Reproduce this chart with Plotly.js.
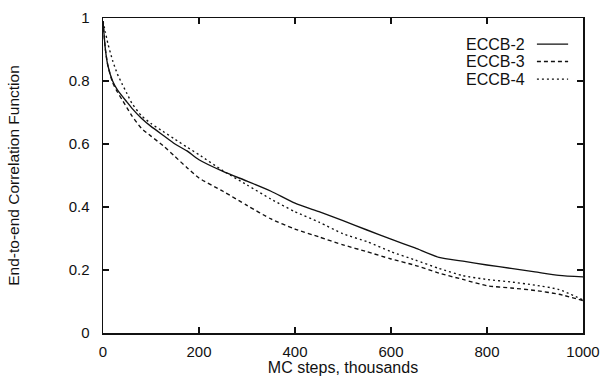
<!DOCTYPE html>
<html>
<head>
<meta charset="utf-8">
<script src="https://cdn.plot.ly/plotly-3.0.1.min.js"></script>
<style>
html,body{margin:0;padding:0;background:#fff;}
#chart{width:604px;height:376px;}
</style>
</head>
<body>
<div id="chart"></div>
<script>
// MC steps (thousands)
var steps = [0, 5, 10, 20, 30, 40, 50, 60, 80, 100, 125, 150, 175, 200, 250, 300, 350, 400, 450, 500, 550, 600, 650, 700, 750, 800, 850, 900, 950, 1000];

var eccb2 = [0.99, 0.90, 0.85, 0.80, 0.772, 0.752, 0.733, 0.714, 0.682, 0.656, 0.628, 0.60, 0.578, 0.55, 0.513, 0.482, 0.45, 0.412, 0.385, 0.357, 0.327, 0.298, 0.27, 0.24, 0.228, 0.216, 0.205, 0.194, 0.183, 0.178];
var eccb3 = [0.99, 0.90, 0.85, 0.795, 0.765, 0.74, 0.715, 0.69, 0.65, 0.625, 0.595, 0.56, 0.525, 0.492, 0.45, 0.405, 0.362, 0.33, 0.305, 0.28, 0.258, 0.235, 0.215, 0.19, 0.17, 0.15, 0.143, 0.135, 0.123, 0.103];
var eccb4 = [0.99, 0.955, 0.92, 0.865, 0.822, 0.79, 0.76, 0.73, 0.69, 0.665, 0.64, 0.615, 0.59, 0.566, 0.515, 0.47, 0.425, 0.385, 0.352, 0.315, 0.29, 0.258, 0.232, 0.205, 0.182, 0.17, 0.162, 0.152, 0.138, 0.105];

var seriesNames = ["ECCB-2", "ECCB-3", "ECCB-4"];
var seriesData = [eccb2, eccb3, eccb4];
var dashes = ["solid", "4px,3px", "2px,3px"];

var xTicks = [0, 200, 400, 600, 800, 1000];
var yTicks = [0, 0.2, 0.4, 0.6, 0.8, 1];

var FONT = "Liberation Sans, Arial, Helvetica, sans-serif";
var INK = "#111";

var traces = seriesData.map(function (d, i) {
  return {
    x: steps, y: d, name: seriesNames[i], type: "scatter", mode: "lines",
    line: {color: INK, width: 1.35, dash: dashes[i], shape: "spline", smoothing: 0.6},
    showlegend: false, hoverinfo: "skip"
  };
});

// legend drawn as text to the left of line samples (as in the reference)
var legX0 = 0.904, legX1 = 0.969, legTextX = 0.884;
var legY = [0.917, 0.862, 0.806];
var annotations = [];
var shapes = [];
seriesNames.forEach(function (n, i) {
  annotations.push({
    xref: "paper", yref: "paper", x: legTextX, y: legY[i], xanchor: "right", yanchor: "middle",
    text: n, showarrow: false, font: {family: FONT, size: 16, color: INK}
  });
  shapes.push({
    type: "line", xref: "paper", yref: "paper", x0: legX0, x1: legX1, y0: legY[i], y1: legY[i],
    line: {color: INK, width: 1.35, dash: dashes[i]}
  });
});

var axisCommon = {
  showline: true, linecolor: INK, linewidth: 1.5, mirror: "ticks",
  ticks: "inside", ticklen: 6, tickwidth: 1.3, tickcolor: INK,
  showgrid: false, zeroline: false,
  tickfont: {family: FONT, size: 15, color: INK}
};

var layout = {
  width: 604, height: 376,
  margin: {l: 103, r: 21, t: 18, b: 43},
  paper_bgcolor: "#fff", plot_bgcolor: "#fff",
  font: {family: FONT, color: INK},
  xaxis: Object.assign({}, axisCommon, {
    range: [0, 1000], tickvals: xTicks, ticktext: xTicks.map(String),
    ticklabelstandoff: 4,
    title: {text: "MC steps, thousands", font: {family: FONT, size: 16, color: INK}, standoff: 2}
  }),
  yaxis: Object.assign({}, axisCommon, {
    range: [0, 1], tickvals: yTicks, ticktext: yTicks.map(String),
    ticklabelstandoff: 9,
    title: {text: "End-to-end Correlation Function", font: {family: FONT, size: 15.5, color: INK}, standoff: 45}
  }),
  annotations: annotations,
  shapes: shapes,
  showlegend: false
};

Plotly.newPlot("chart", traces, layout, {staticPlot: true, displayModeBar: false});
</script>
</body>
</html>
